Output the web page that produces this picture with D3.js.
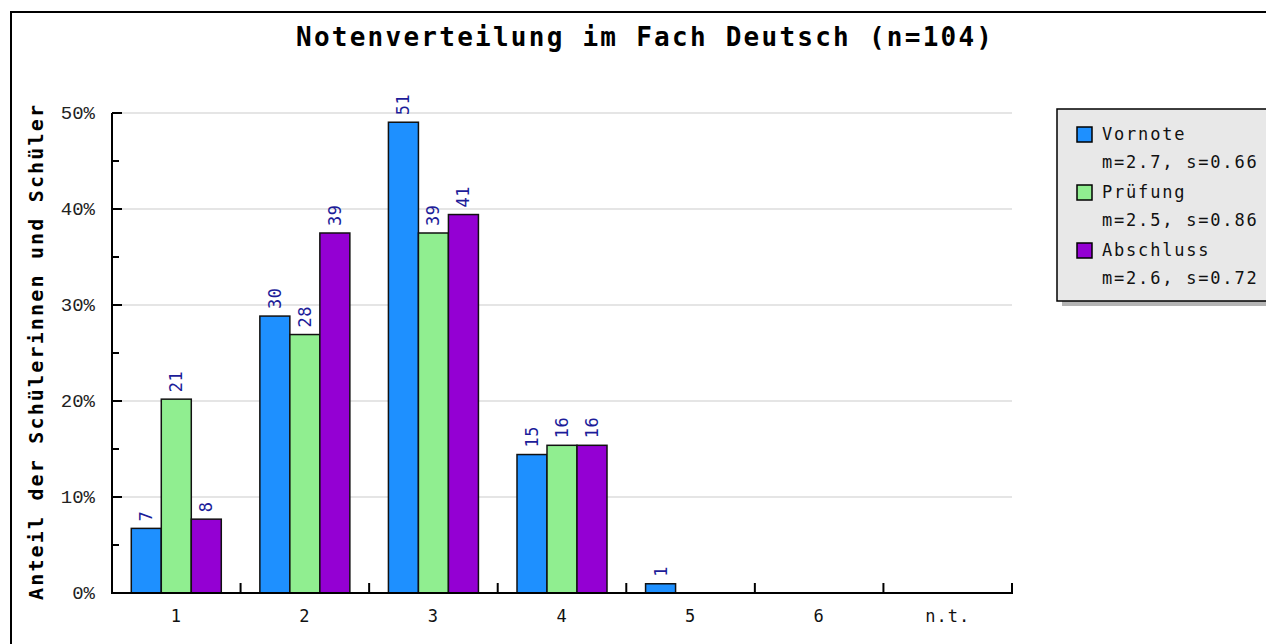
<!DOCTYPE html>
<html><head><meta charset="utf-8">
<script src="https://cdn.jsdelivr.net/npm/d3@7"></script>
<style>body{margin:0;background:#fff;}svg{display:block;}</style>
</head><body>
<svg id="c" width="1266" height="644"></svg>
<script>
const titleText = "Notenverteilung im Fach Deutsch (n=104)";
const yTitle = "Anteil der Schülerinnen und Schüler";
const n = 104;
const categories = ["1","2","3","4","5","6","n.t."];
const seriesNames = ["Vornote","Prüfung","Abschluss"];
const seriesStats = ["m=2.7, s=0.66","m=2.5, s=0.86","m=2.6, s=0.72"];
const vornote = [7,30,51,15,1,0,0];
const pruefung = [21,28,39,16,0,0,0];
const abschluss = [8,39,41,16,0,0,0];
const yTicks = [0,10,20,30,40,50];
const colors = ["#1e90ff","#90ee90","#9400d3"];

const series = [vornote, pruefung, abschluss];
const svg = d3.select("#c");
const mono = "'DejaVu Sans Mono', monospace";

// outer frame
svg.append("rect").attr("x",11).attr("y",12).attr("width",1400).attr("height",800)
  .attr("fill","none").attr("stroke","#000").attr("stroke-width",2);

const x0 = d3.scaleBand().domain(categories).range([112,1012]).paddingInner(0).paddingOuter(0);
const bw = x0.bandwidth()*0.7;
const x1 = d3.scaleBand().domain(d3.range(series.length)).range([0,bw]);
const y = d3.scaleLinear().domain([0,50]).range([593,113]);

// grid
svg.append("g").selectAll("line").data(yTicks.filter(d=>d>0)).join("line")
  .attr("x1",112).attr("x2",1012).attr("y1",d=>y(d)).attr("y2",d=>y(d))
  .attr("stroke","#dcdcdc").attr("stroke-width",1.5);

// bars
const data = [];
categories.forEach((c,i)=>series.forEach((s,j)=>{ if(s[i]>0) data.push({c,j,v:s[i],p:s[i]/n*100}); }));
const gb = svg.append("g");
gb.selectAll("rect").data(data).join("rect")
  .attr("x",d=>x0(d.c)+(x0.bandwidth()-bw)/2+x1(d.j))
  .attr("y",d=>y(d.p)).attr("width",x1.bandwidth()).attr("height",d=>y(0)-y(d.p))
  .attr("fill",d=>colors[d.j]).attr("stroke","#111").attr("stroke-width",1.5);
gb.selectAll("text").data(data).join("text")
  .attr("transform",d=>`translate(${x0(d.c)+(x0.bandwidth()-bw)/2+x1(d.j)+x1.bandwidth()/2+6},${y(d.p)-7}) rotate(-90)`)
  .attr("font-family",mono).attr("font-size",17).attr("letter-spacing",0.5).attr("fill","#1c1c99")
  .text(d=>d.v);

// y axis
svg.append("line").attr("x1",112).attr("x2",112).attr("y1",113).attr("y2",594).attr("stroke","#000").attr("stroke-width",2);
svg.append("g").selectAll("line").data(d3.range(0,55,5)).join("line")
  .attr("x1",112).attr("x2",d=>d%10===0?122:119).attr("y1",d=>y(d)).attr("y2",d=>y(d))
  .attr("stroke","#000").attr("stroke-width",2);
svg.append("g").selectAll("text").data(yTicks).join("text")
  .attr("x",95).attr("y",d=>y(d)+6).attr("text-anchor","end")
  .attr("font-family","'Liberation Mono', monospace").attr("font-size",19).attr("fill","#222")
  .text(d=>d+"%");

// x axis
svg.append("line").attr("x1",111).attr("x2",1013).attr("y1",593).attr("y2",593).attr("stroke","#000").attr("stroke-width",2);
const bounds = categories.map(c=>x0(c)).slice(1).concat([x0(categories[categories.length-1])+x0.bandwidth()]);
svg.append("g").selectAll("line").data(bounds).join("line")
  .attr("x1",d=>d).attr("x2",d=>d).attr("y1",593).attr("y2",583).attr("stroke","#000").attr("stroke-width",2);
svg.append("g").selectAll("text").data(categories).join("text")
  .attr("x",d=>x0(d)+x0.bandwidth()/2).attr("y",622).attr("text-anchor","middle")
  .attr("font-family",mono).attr("font-size",17).attr("letter-spacing",1).attr("fill","#111")
  .text(d=>d);

// title
svg.append("text").attr("x",296).attr("y",46).attr("font-family",mono).attr("font-weight","bold")
  .attr("font-size",26).attr("textLength",696).attr("lengthAdjust","spacing").attr("fill","#000").text(titleText);

// y title
svg.append("text").attr("transform","translate(43,600) rotate(-90)")
  .attr("font-family",mono).attr("font-weight","bold").attr("font-size",20)
  .attr("textLength",495).attr("lengthAdjust","spacing").attr("fill","#000").text(yTitle);

// legend
const lg = svg.append("g");
lg.append("rect").attr("x",1062).attr("y",114).attr("width",300).attr("height",192).attr("fill","#b4b4b4");
lg.append("rect").attr("x",1057).attr("y",109).attr("width",300).attr("height",192).attr("fill","#e8e8e8").attr("stroke","#000").attr("stroke-width",1.5);
seriesNames.forEach((s,i)=>{
  const cy = 134 + i*58;
  lg.append("rect").attr("x",1077).attr("y",cy-7).attr("width",15).attr("height",15).attr("fill",colors[i]).attr("stroke","#000").attr("stroke-width",1.5);
  lg.append("text").attr("x",1102).attr("y",cy+6).attr("font-family",mono).attr("font-size",17).attr("letter-spacing",1.8).attr("fill","#111").text(s);
  lg.append("text").attr("x",1102).attr("y",cy+34).attr("font-family",mono).attr("font-size",17).attr("letter-spacing",1.8).attr("fill","#111").text(seriesStats[i]);
});
</script>
</body></html>
